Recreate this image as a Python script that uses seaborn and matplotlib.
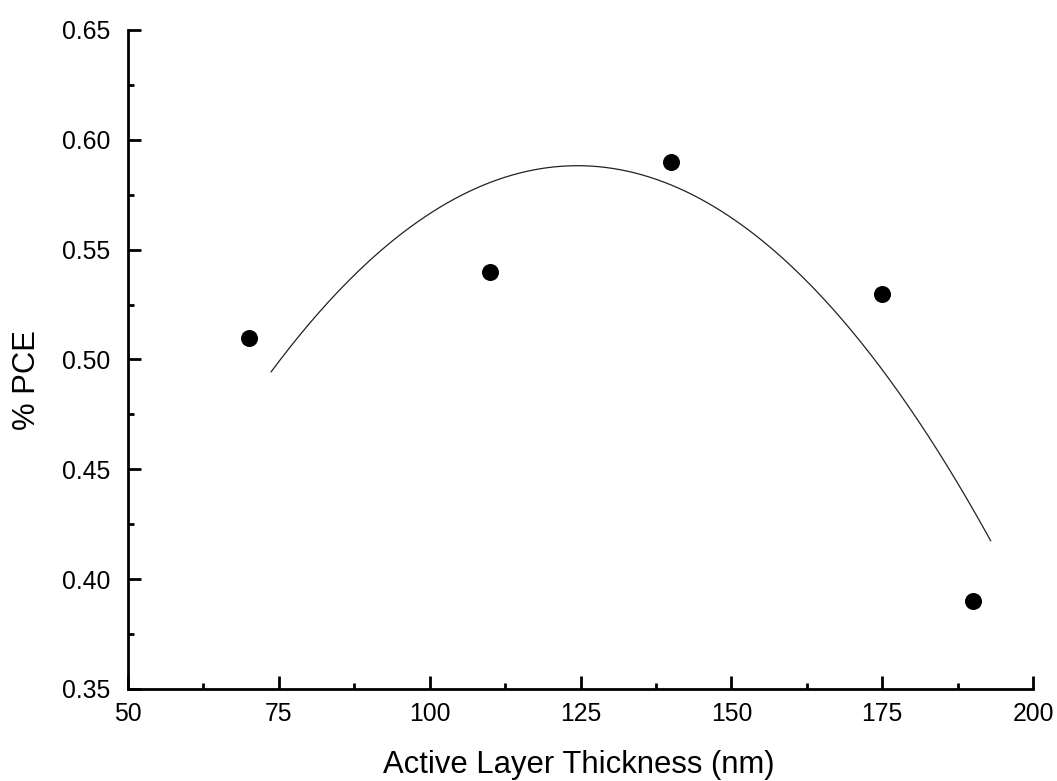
import numpy as np
import pandas as pd
import matplotlib
matplotlib.use("Agg")
import matplotlib.pyplot as plt
import seaborn as sns
from matplotlib.ticker import MultipleLocator

# Measured device efficiency versus active layer thickness
thickness_nm = [70, 110, 140, 175, 190]
pce_percent = [0.51, 0.54, 0.59, 0.53, 0.39]

# Points sampled along the quadratic trend curve
trend_x = [73.7, 90, 105, 124.5, 140, 160, 175, 193.0]
trend_y = [0.4943, 0.5449, 0.5744, 0.5882, 0.5795, 0.5423, 0.4954, 0.4174]

x_ticks = [50, 75, 100, 125, 150, 175, 200]
y_ticks = [0.35, 0.40, 0.45, 0.50, 0.55, 0.60, 0.65]

sns.set_theme(style="ticks")
plt.rcParams["font.family"] = ["Liberation Sans", "DejaVu Sans"]

fig = plt.figure(figsize=(10.57, 7.81), dpi=100)
ax = fig.add_axes([0.1211, 0.1178, 0.8562, 0.8438])

# Smooth second-order trend through the sampled curve points
coef = np.polyfit(trend_x, trend_y, 2)
xs = np.linspace(min(trend_x), max(trend_x), 300)
trend = pd.DataFrame({"x": xs, "y": np.polyval(coef, xs)})
sns.lineplot(data=trend, x="x", y="y", ax=ax, color="#222222",
             linewidth=0.9, sort=False)

points = pd.DataFrame({"thickness": thickness_nm, "pce": pce_percent})
sns.scatterplot(data=points, x="thickness", y="pce", ax=ax, color="black",
                s=150, edgecolor="black", linewidth=0, zorder=3)

ax.set_xlim(x_ticks[0], x_ticks[-1])
ax.set_ylim(y_ticks[0], y_ticks[-1])
ax.set_xticks(x_ticks)
ax.set_yticks(y_ticks)
ax.set_xticklabels([str(v) for v in x_ticks])
ax.set_yticklabels([f"{v:.2f}" for v in y_ticks])
ax.xaxis.set_minor_locator(MultipleLocator(12.5))
ax.yaxis.set_minor_locator(MultipleLocator(0.025))

for side in ("top", "right"):
    ax.spines[side].set_visible(False)
for side in ("left", "bottom"):
    ax.spines[side].set_linewidth(2.0)
    ax.spines[side].set_color("black")

ax.tick_params(axis="both", which="major", direction="in", length=9.4,
               width=2.0, color="black", labelsize=17.8, labelcolor="black")
ax.tick_params(axis="both", which="minor", direction="in", length=4.3,
               width=2.0, color="black")
ax.tick_params(axis="x", which="major", pad=9.4)
ax.tick_params(axis="y", which="major", pad=13)

ax.set_xlabel("Active Layer Thickness (nm)", fontsize=22.3, color="black")
ax.set_ylabel("% PCE", fontsize=22.3, color="black")
ax.xaxis.set_label_coords(0.4985, -0.0926)
ax.yaxis.set_label_coords(-0.095, 0.469)

fig.savefig("out.png", dpi=100, facecolor="white")
